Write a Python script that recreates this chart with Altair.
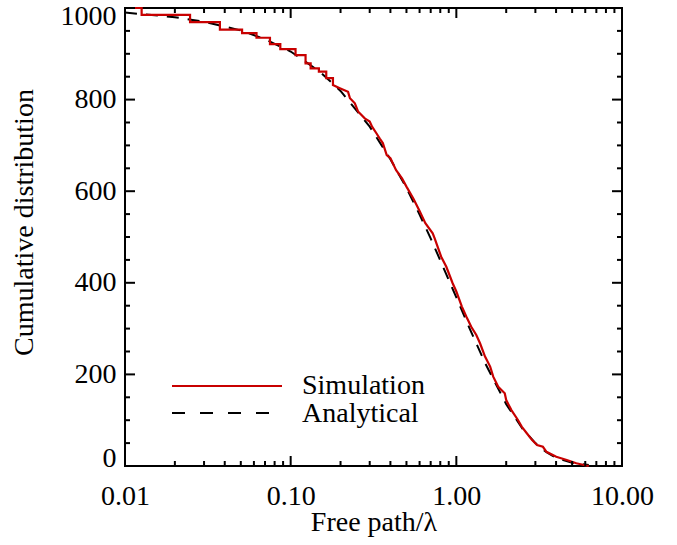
import altair as alt
import pandas as pd

# Simulation (step-like cumulative count)
sim_x = [0.01, 0.0126, 0.0126, 0.0247, 0.0247, 0.0374, 0.0374, 0.0509, 0.0509, 0.0622,
         0.0622, 0.075, 0.075, 0.0866, 0.0866, 0.107, 0.107, 0.123, 0.123, 0.132,
         0.132, 0.148, 0.148, 0.164, 0.164, 0.18, 0.18, 0.198, 0.222, 0.228,
         0.244, 0.255, 0.28, 0.30, 0.31, 0.33, 0.345, 0.36, 0.38, 0.40,
         0.433, 0.47, 0.50, 0.55, 0.60, 0.65, 0.72, 0.74, 0.81, 0.87,
         0.95, 1.00, 1.08, 1.15, 1.23, 1.32, 1.39, 1.49, 1.60, 1.67,
         1.79, 1.96, 2.00, 2.15, 2.36, 2.48, 2.67, 2.86, 3.07, 3.33,
         3.50, 4.01, 4.64, 5.30, 6.08, 6.3]
sim_y = [1000, 1000, 985, 985, 969, 969, 953, 953, 945, 945,
         935, 935, 921, 921, 910, 910, 897, 897, 879, 879,
         868, 868, 861, 861, 847, 847, 832, 825, 817, 803,
         792, 774, 759, 752, 741, 726, 715, 705, 679, 672,
         646, 628, 610, 584, 557, 530, 508, 497, 457, 435,
         399, 381, 348, 326, 304, 286, 268, 239, 217, 195,
         173, 159, 144, 122, 100, 86, 71, 57, 46, 42,
         31, 20, 13, 6, 1, 0]

# Analytical curve
ana_x = [0.01, 0.02, 0.03, 0.05, 0.07, 0.1, 0.15, 0.2, 0.3, 0.4, 0.5, 0.6, 0.7,
         0.8, 1.0, 1.2, 1.5, 2.0, 2.5, 3.0, 3.5, 4.0, 5.0, 6.3]
ana_y = [990, 980, 970, 951, 932, 905, 861, 819, 741, 670, 607, 549, 497,
         449, 368, 301, 223, 135, 82, 50, 30, 18, 7, 2]

legend_labels = ["Simulation", "Analytical"]

y_major = [0, 200, 400, 600, 800, 1000]
y_minor = [50, 100, 150, 250, 300, 350, 450, 500, 550, 650, 700, 750, 850, 900, 950]
x_major = [0.01, 0.1, 1, 10]
x_minor = [0.02, 0.03, 0.04, 0.05, 0.06, 0.07, 0.08, 0.09,
           0.2, 0.3, 0.4, 0.5, 0.6, 0.7, 0.8, 0.9,
           2, 3, 4, 5, 6, 7, 8, 9]

W, H = 497, 458
FONT = "Liberation Serif"
RED = "#c80000"
FS = 28

xs = alt.Scale(type="log", domain=[0.01, 10], nice=False)
ys = alt.Scale(domain=[0, 1000], nice=False)

sim = pd.DataFrame({"x": sim_x, "y": sim_y, "i": list(range(len(sim_x)))})
ana = pd.DataFrame({"x": ana_x, "y": ana_y})

x_axis = alt.Axis(values=x_major, format=".2f", title="Free path/λ",
                  labelPadding=16, labelFlush=False, labelOverlap=False,
                  titleY=64, titleBaseline="alphabetic")
y_axis = alt.Axis(values=y_major, format="d", title="Cumulative distribution",
                  labelPadding=9, labelFlush=True, labelFlushOffset=6,
                  labelOverlap=False, titleX=-93, titleY=214,
                  titleBaseline="alphabetic")

def X(field):
    return alt.X(field, scale=xs, axis=x_axis)

def Y(field):
    return alt.Y(field, scale=ys, axis=y_axis)

ana_layer = alt.Chart(ana).mark_line(color="black", strokeWidth=2, strokeDash=[12, 9]).encode(
    x=X("x:Q"), y=Y("y:Q"),
)
sim_layer = alt.Chart(sim).mark_line(color=RED, strokeWidth=2.2).encode(
    x=X("x:Q"), y=Y("y:Q"), order=alt.Order("i:Q"),
)

def yticks(vals, length):
    df = pd.DataFrame({"v": vals})
    left = alt.Chart(df).mark_rule(color="black", strokeWidth=2).encode(
        y=Y("v:Q"), x=alt.value(0), x2=alt.value(length))
    right = alt.Chart(df).mark_rule(color="black", strokeWidth=2).encode(
        y=Y("v:Q"), x=alt.value(W), x2=alt.value(W - length))
    return [left, right]

def xticks(vals, length):
    df = pd.DataFrame({"v": vals})
    bottom = alt.Chart(df).mark_rule(color="black", strokeWidth=2).encode(
        x=X("v:Q"), y=alt.value(H), y2=alt.value(H - length))
    top = alt.Chart(df).mark_rule(color="black", strokeWidth=2).encode(
        x=X("v:Q"), y=alt.value(0), y2=alt.value(length))
    return [bottom, top]

tick_layers = yticks(y_major, 10) + yticks(y_minor, 5) + xticks(x_major, 10) + xticks(x_minor, 5)

leg1 = pd.DataFrame({"label": [legend_labels[0]]})
leg2 = pd.DataFrame({"label": [legend_labels[1]]})
leg_line1 = alt.Chart(leg1).mark_rule(color=RED, strokeWidth=2).encode(
    x=alt.value(47), x2=alt.value(157), y=alt.value(378))
leg_line2 = alt.Chart(leg2).mark_rule(color="black", strokeWidth=2, strokeDash=[13, 15]).encode(
    x=alt.value(47), x2=alt.value(157), y=alt.value(405))
leg_text1 = alt.Chart(leg1).mark_text(align="left", baseline="alphabetic", font=FONT,
                                      fontSize=FS, color="black").encode(
    x=alt.value(177), y=alt.value(386), text="label:N")
leg_text2 = alt.Chart(leg2).mark_text(align="left", baseline="alphabetic", font=FONT,
                                      fontSize=FS, color="black").encode(
    x=alt.value(177), y=alt.value(414), text="label:N")

chart = alt.layer(
    ana_layer, sim_layer, *tick_layers, leg_line1, leg_line2, leg_text1, leg_text2
).properties(
    width=W, height=H,
    autosize=alt.AutoSizeParams(type="none"),
    padding={"left": 125, "top": 8, "right": 55, "bottom": 79},
).configure_view(
    stroke="black", strokeWidth=2
).configure_axis(
    labelFont=FONT, titleFont=FONT, labelFontSize=FS, titleFontSize=FS,
    labelColor="black", titleColor="black", titleFontWeight="normal",
    grid=False, ticks=False, tickSize=0, domain=False,
)

chart.save("out.html", embed_options={"renderer": "svg", "actions": False})
